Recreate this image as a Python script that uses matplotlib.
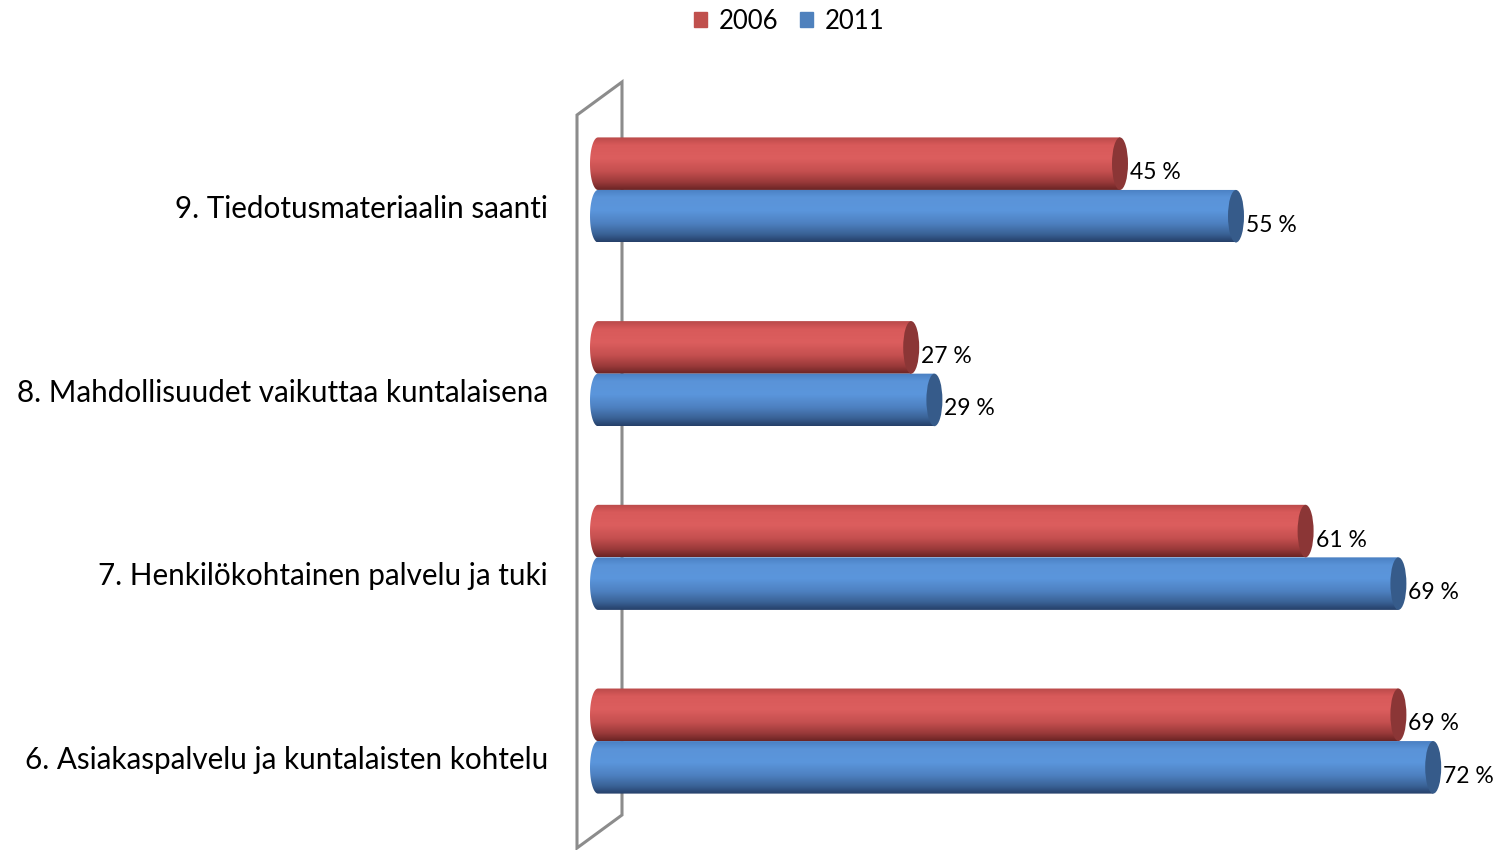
import numpy as np
import matplotlib.pyplot as plt
from matplotlib.colors import LinearSegmentedColormap
from matplotlib.patches import Ellipse, Polygon, PathPatch, Rectangle
from matplotlib.path import Path

# ============================================================================
# DATA
# ============================================================================
categories = ["6. Asiakaspalvelu ja kuntalaisten kohtelu",
              "7. Henkilökohtainen palvelu ja tuki",
              "8. Mahdollisuudet vaikuttaa kuntalaisena",
              "9. Tiedotusmateriaalin saanti"]
v2006 = [69, 61, 27, 45]
v2011 = [72, 69, 29, 55]
series_names = ["2006", "2011"]

# ============================================================================
# STYLE
# ============================================================================
W, H = 1499, 850
FONT = ["Lato", "DejaVu Sans"]
PX_PER_PCT = 11.6
X0_PX = 598          # pixel of the 0 % position
AX_LEFT_PX = 580     # left edge of the plotting axes
BAR_H = 0.286
CAP_W = 16 / PX_PER_PCT

red_grad = LinearSegmentedColormap.from_list("r", [
    (0.0, "#b94a49"), (0.15, "#d85a5a"), (0.4, "#dc5e5e"),
    (0.65, "#c44f4f"), (0.85, "#9a3a3a"), (1.0, "#6a2424")])
blue_grad = LinearSegmentedColormap.from_list("b", [
    (0.0, "#4a7fc2"), (0.15, "#5a93d8"), (0.4, "#5b96dc"),
    (0.65, "#4d80c0"), (0.85, "#3a6296"), (1.0, "#253f68")])
cap_red = "#8b3636"
cap_blue = "#365b8a"
legend_red = "#c0504d"
legend_blue = "#4f81bd"

fig = plt.figure(figsize=(W / 100, H / 100), dpi=100)

# background axes in pixel units for the 3D wall
bg = fig.add_axes([0, 0, 1, 1], zorder=0)
bg.set_xlim(0, W)
bg.set_ylim(H, 0)
bg.axis("off")
wall = Polygon([(577, 115), (622, 82), (622, 815), (577, 848)], closed=True,
               fill=False, edgecolor="#8c8c8c", linewidth=2.2)
bg.add_patch(wall)

ax = fig.add_axes([AX_LEFT_PX / W, 0, (W - AX_LEFT_PX) / W, 1], zorder=1)
ax.patch.set_alpha(0)
ax.set_xlim((AX_LEFT_PX - X0_PX) / PX_PER_PCT, (W - X0_PX) / PX_PER_PCT)
ax.set_ylim(-0.593, 4.034)
ax.axis("off")

grad = np.linspace(0, 1, 256).reshape(-1, 1)


def cylinder(ax, y0, y1, v, cmap, capcol):
    """Draw a horizontal cylinder from 0 to v between y0 (bottom) and y1 (top)."""
    hw = CAP_W / 2
    yc = (y0 + y1) / 2
    ry = (y1 - y0) / 2
    t = np.linspace(np.pi / 2, 3 * np.pi / 2, 40)
    left = np.column_stack([hw * np.cos(t), yc + ry * np.sin(t)])
    verts = [(v, y1)] + [tuple(p) for p in left] + [(v, y0), (v, y1)]
    codes = [Path.MOVETO] + [Path.LINETO] * (len(verts) - 2) + [Path.CLOSEPOLY]
    body = PathPatch(Path(verts, codes), facecolor="none", edgecolor="none")
    ax.add_patch(body)
    im = ax.imshow(grad, cmap=cmap, aspect="auto", extent=[-hw, v, y0, y1],
                   origin="upper", zorder=2, interpolation="bilinear")
    im.set_clip_path(body)
    ax.add_patch(Ellipse((v, yc), CAP_W, y1 - y0, facecolor=capcol,
                         edgecolor="none", zorder=3))


for i, cat in enumerate(categories):
    cylinder(ax, i, i + BAR_H, v2006[i], red_grad, cap_red)
    cylinder(ax, i - BAR_H, i, v2011[i], blue_grad, cap_blue)
    ax.annotate(f"{v2006[i]} %", xy=(v2006[i] + CAP_W / 2, i + BAR_H / 2),
                xytext=(2, -9), textcoords="offset pixels", ha="left",
                va="center", fontsize=16.5, family=FONT, zorder=5)
    ax.annotate(f"{v2011[i]} %", xy=(v2011[i] + CAP_W / 2, i - BAR_H / 2),
                xytext=(2, -9), textcoords="offset pixels", ha="left",
                va="center", fontsize=16.5, family=FONT, zorder=5)
    ax.annotate(cat, xy=(0, i), xytext=(-50, -19), textcoords="offset pixels",
                ha="right", va="center", fontsize=21.3, family=FONT,
                annotation_clip=False)

# legend
handles = [Rectangle((0, 0), 1, 1, color=legend_red),
           Rectangle((0, 0), 1, 1, color=legend_blue)]
fig.legend(handles, series_names, loc="upper center", bbox_to_anchor=(789 / W, 1.017),
           ncol=2, frameon=False, prop={"family": FONT, "size": 18.5},
           handlelength=0.5, handleheight=0.5, handletextpad=0.45, columnspacing=0.85)

fig.savefig("out.png", dpi=100)
